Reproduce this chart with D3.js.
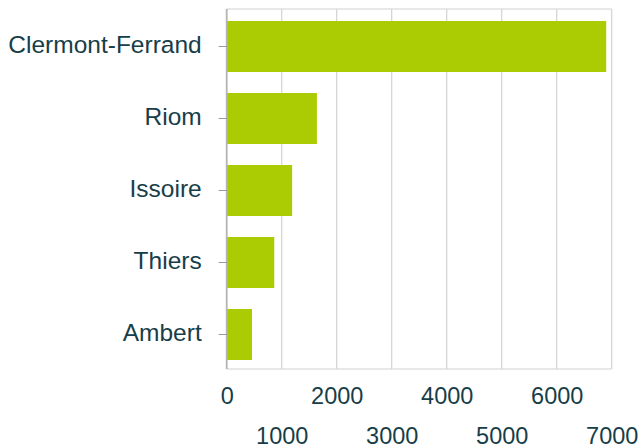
<!DOCTYPE html>
<html>
<head>
<meta charset="utf-8">
<script src="https://cdn.jsdelivr.net/npm/d3@7"></script>
<style>
  html, body { margin: 0; padding: 0; background: #ffffff; }
  svg { display: block; }
  text { font-family: "Liberation Sans", Arial, sans-serif; fill: #173e48; }
</style>
</head>
<body>
<svg id="chart" width="638" height="447"></svg>
<script>
// Communes and their values
const communes = ["Clermont-Ferrand", "Riom", "Issoire", "Thiers", "Ambert"];
const valeurs = [6900, 1640, 1190, 865, 460];
const xTicks = [0, 1000, 2000, 3000, 4000, 5000, 6000, 7000];

const W = 638, H = 447;
const plot = { left: 226.7, right: 611.7, top: 9, bottom: 369 };
const barColor = "#abcc03";
const gridColor = "#d2d2d2";

const svg = d3.select("#chart");

const x = d3.scaleLinear().domain([0, 7000]).range([plot.left, plot.right]);
const y = d3.scaleBand()
  .domain(communes)
  .range([plot.top, plot.bottom])
  .paddingInner(21 / 72)
  .paddingOuter(10.5 / 72)
  .align(0.571);

// Vertical grid lines and the plot frame
svg.append("g")
  .selectAll("line")
  .data(xTicks.slice(1))
  .join("line")
  .attr("x1", d => x(d)).attr("x2", d => x(d))
  .attr("y1", plot.top).attr("y2", plot.bottom)
  .attr("stroke", gridColor).attr("stroke-width", 1.2);

svg.append("line")
  .attr("x1", plot.left).attr("x2", plot.right)
  .attr("y1", plot.top).attr("y2", plot.top)
  .attr("stroke", gridColor).attr("stroke-width", 1.2);
svg.append("line")
  .attr("x1", plot.left).attr("x2", plot.right)
  .attr("y1", plot.bottom).attr("y2", plot.bottom)
  .attr("stroke", gridColor).attr("stroke-width", 1.2);

// Bars
svg.append("g")
  .selectAll("rect")
  .data(communes)
  .join("rect")
  .attr("x", x(0))
  .attr("y", d => y(d))
  .attr("width", (d, i) => x(valeurs[i]) - x(0))
  .attr("height", y.bandwidth())
  .attr("fill", barColor);

// Left axis line and category ticks
svg.append("line")
  .attr("x1", plot.left).attr("x2", plot.left)
  .attr("y1", plot.top).attr("y2", plot.bottom)
  .attr("stroke", "#b4b4b4").attr("stroke-width", 1.8);

const yAxis = svg.append("g")
  .attr("transform", `translate(${plot.left},0)`)
  .call(d3.axisLeft(y).tickSize(8).tickPadding(17));
yAxis.select(".domain").remove();
yAxis.selectAll(".tick line").attr("stroke", "#9a9a9a").attr("stroke-width", 1);
yAxis.selectAll(".tick text")
  .attr("font-size", 24.5)
  .attr("font-family", "Liberation Sans, Arial, sans-serif")
  .attr("fill", "#173e48")
  .attr("dy", "0.28em");

// Bottom axis: labels staggered on two rows
const xAxis = svg.append("g")
  .attr("transform", `translate(0,${plot.bottom})`)
  .call(d3.axisBottom(x).tickValues(xTicks).tickFormat(d3.format("d")).tickSize(0));
xAxis.select(".domain").remove();
xAxis.selectAll(".tick line").remove();
xAxis.selectAll(".tick text")
  .attr("font-size", 23.5)
  .attr("font-family", "Liberation Sans, Arial, sans-serif")
  .attr("fill", "#173e48")
  .attr("dy", null)
  .attr("y", (d, i) => i % 2 === 0 ? 35 : 75);
</script>
</body>
</html>
